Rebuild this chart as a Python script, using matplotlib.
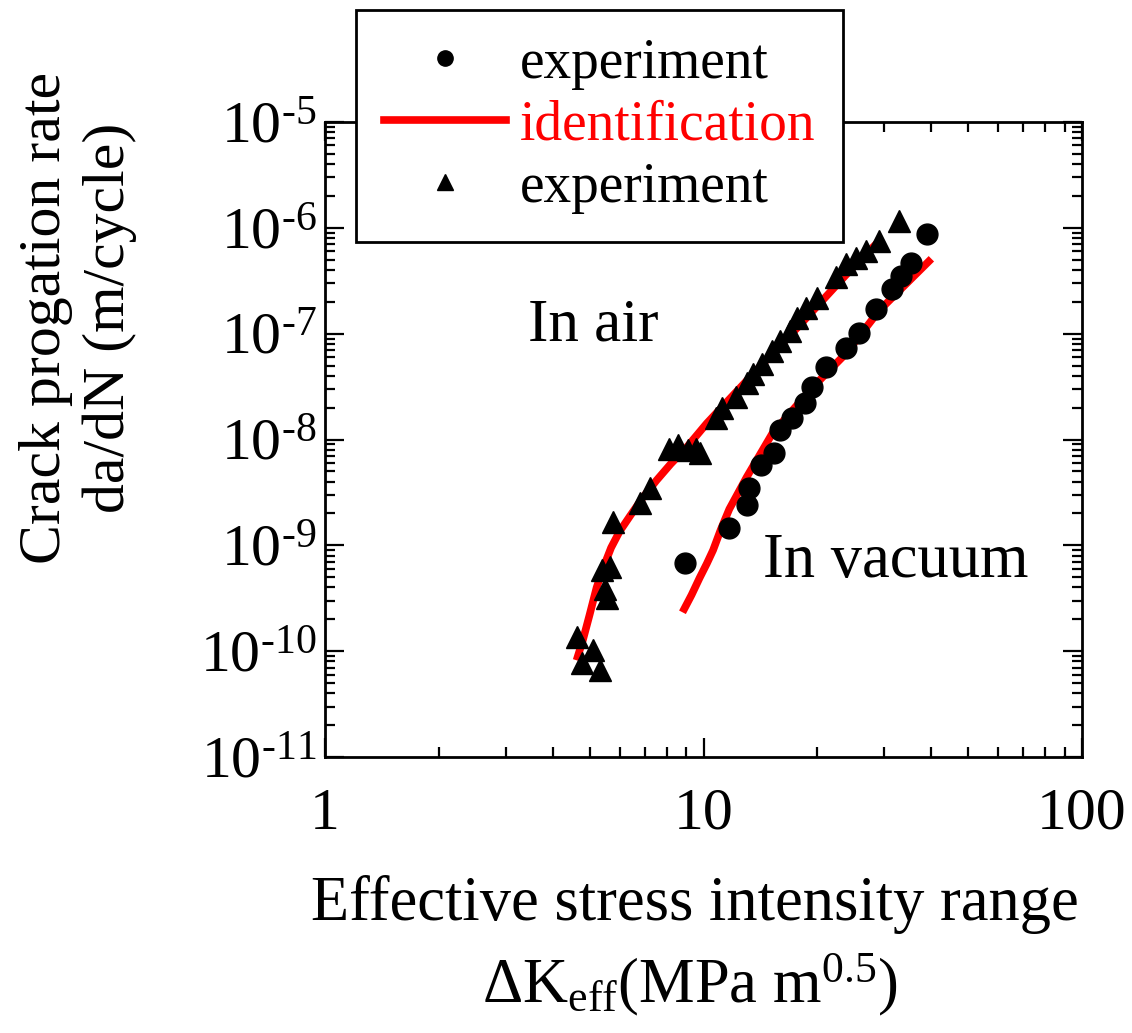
import numpy as np
import matplotlib
matplotlib.use('Agg')
import matplotlib.pyplot as plt
from matplotlib.ticker import LogLocator, FixedLocator, FixedFormatter, FuncFormatter, NullFormatter
from matplotlib.lines import Line2D

# 字体设置 (Times 风格)
plt.rcParams['font.family'] = ['Liberation Serif', 'DejaVu Serif']
plt.rcParams['mathtext.fontset'] = 'custom'
plt.rcParams['mathtext.rm'] = 'Liberation Serif'
plt.rcParams['mathtext.it'] = 'Liberation Serif:italic'
plt.rcParams['mathtext.default'] = 'regular'

# 实验数据: 空气中 (三角形)
air_dk = [4.62, 5.10, 4.77, 5.32, 5.38, 5.65, 5.55, 5.50, 5.75, 6.78, 7.20,
          8.13, 8.54, 9.58, 9.76, 9.10, 10.8, 11.2, 12.2, 13.0, 13.5, 14.3,
          15.2, 15.9, 16.9, 17.7, 18.7, 19.9, 22.4, 23.8, 25.3, 26.9, 29.1, 32.9]
air_rate = [1.36e-10, 1.02e-10, 7.7e-11, 6.6e-11, 5.8e-10, 6.2e-10, 3.2e-10, 3.9e-10,
            1.65e-9, 2.5e-9, 3.45e-9, 8.2e-9, 8.8e-9, 8.2e-9, 7.4e-9, 7.9e-9,
            1.61e-8, 2.0e-8, 2.5e-8, 3.4e-8, 4.2e-8, 5.2e-8, 6.9e-8, 8.6e-8,
            1.07e-7, 1.42e-7, 1.76e-7, 2.19e-7, 3.4e-7, 4.6e-7, 5.2e-7, 6.1e-7,
            7.5e-7, 1.16e-6]

# 实验数据: 真空中 (圆点)
vac_dk = [8.91, 11.7, 13.0, 13.2, 14.2, 15.4, 15.9, 17.1, 18.5, 19.4, 21.1,
          23.8, 25.8, 28.6, 31.5, 33.3, 35.4, 39.0]
vac_rate = [6.8e-10, 1.45e-9, 2.4e-9, 3.5e-9, 5.7e-9, 7.5e-9, 1.22e-8, 1.6e-8,
            2.2e-8, 3.1e-8, 4.8e-8, 7.4e-8, 1.02e-7, 1.72e-7, 2.66e-7, 3.5e-7,
            4.7e-7, 8.8e-7]

# 识别曲线
air_fit_dk = [4.62, 4.80, 5.00, 5.22, 5.45, 5.70, 6.00, 6.40, 6.90, 7.51, 8.20,
              9.02, 10.2, 13.2, 17.9, 24.3, 29.1]
air_fit_rate = [8.2e-11, 1.27e-10, 2.2e-10, 4.0e-10, 6.3e-10, 9.5e-10, 1.35e-9,
                1.9e-9, 2.8e-9, 4.1e-9, 5.9e-9, 8.4e-9, 1.42e-8, 3.8e-8, 1.19e-7,
                3.9e-7, 7.5e-7]
vac_fit_dk = [8.80, 9.30, 9.76, 10.2, 10.6, 11.1, 11.7, 13.0, 15.2, 19.4, 23.8, 29.1, 40.0]
vac_fit_rate = [2.33e-10, 3.4e-10, 4.9e-10, 6.7e-10, 9.0e-10, 1.4e-9, 2.2e-9,
                4.4e-9, 1.14e-8, 3.1e-8, 6.5e-8, 1.65e-7, 5.1e-7]

fs = 44

fig = plt.figure(figsize=(11.32, 10.33), dpi=100)
ax = fig.add_axes([325/1132, 1-757/1033, (1082-325)/1132, (757-122)/1033])

ax.plot(air_fit_dk, air_fit_rate, color='red', lw=5.5, zorder=2, solid_capstyle='butt')
ax.plot(vac_fit_dk, vac_fit_rate, color='red', lw=5.5, zorder=2, solid_capstyle='butt')
ax.plot(air_dk, air_rate, linestyle='none', marker='^', ms=16, color='black', zorder=3)
ax.plot(vac_dk, vac_rate, linestyle='none', marker='o', ms=15, color='black', zorder=3)

ax.set_xscale('log')
ax.set_yscale('log')
ax.set_xlim(1, 100)
ax.set_ylim(1e-11, 1e-5)

ax.xaxis.set_major_locator(FixedLocator([1, 10, 100]))
ax.xaxis.set_major_formatter(FixedFormatter(['1', '10', '100']))
ax.xaxis.set_minor_locator(LogLocator(base=10, subs=np.arange(2, 10), numticks=20))
ax.xaxis.set_minor_formatter(NullFormatter())
ax.yaxis.set_major_locator(LogLocator(base=10, numticks=20))
ax.yaxis.set_major_formatter(FuncFormatter(
    lambda v, p: r'$10^{\text{-}%d}$' % int(round(-np.log10(v)))))
ax.yaxis.set_minor_locator(LogLocator(base=10, subs=np.arange(2, 10), numticks=20))
ax.yaxis.set_minor_formatter(NullFormatter())

ax.tick_params(which='both', direction='in', top=True, right=True, width=1.6)
ax.tick_params(which='major', length=14, labelsize=43)
ax.tick_params(which='minor', length=7)
ax.tick_params(axis='x', which='major', pad=22)
ax.tick_params(axis='y', which='major', pad=6)
for s in ax.spines.values():
    s.set_linewidth(2)

ax.text(5.1, 1.19e-7, 'In air', fontsize=fs, ha='center', va='center')
ax.text(32.3, 6.9e-10, 'In vacuum', fontsize=45, ha='center', va='center')

# 坐标轴标签
fig.text(78/1132, 1-318/1033, 'Crack progation rate\nda/dN (m/cycle)', fontsize=43,
         rotation=90, ha='center', va='center', multialignment='center', linespacing=1.25)
fig.text(695/1132, 1-905/1033, 'Effective stress intensity range', fontsize=45,
         ha='center', va='center')
fig.text(690/1132, 1-985/1033, r'$\Delta$K$_{\rm eff}$(MPa m$^{0.5}$)', fontsize=45,
         ha='center', va='center')

# 图例
handles = [Line2D([], [], ls='none', marker='o', ms=11, color='black'),
           Line2D([], [], color='red', lw=5.5),
           Line2D([], [], ls='none', marker='^', ms=12, color='black')]
labels = ['experiment', 'identification', 'experiment']
leg = fig.legend(handles, labels, loc='upper left', bbox_to_anchor=(356/1132, 1-10/1033),
                 fontsize=40, frameon=True, fancybox=False, framealpha=1,
                 edgecolor='black', handlelength=2.2, handletextpad=0.25,
                 labelspacing=0.18, borderpad=0.5, borderaxespad=0)
leg.get_frame().set_linewidth(2)
leg.get_texts()[1].set_color('red')

fig.savefig('out.png', dpi=100)
